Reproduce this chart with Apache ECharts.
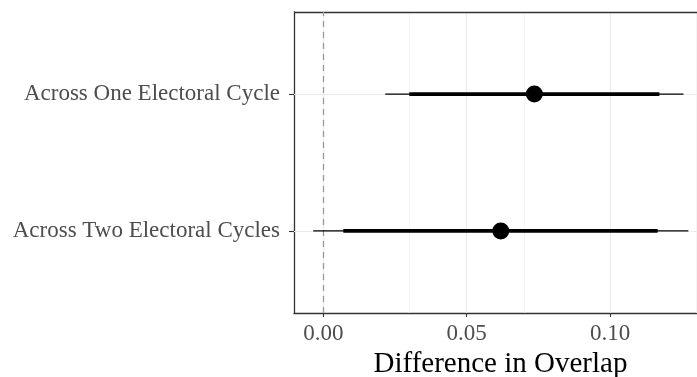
<!DOCTYPE html>
<html><head><meta charset="utf-8">
<script src="https://cdn.jsdelivr.net/npm/echarts@6/dist/echarts.min.js"></script>
<style>html,body{margin:0;padding:0;background:#fff}#c{width:697px;height:377px}</style>
</head><body><div id="c"></div>
<script>
// Data
const categories = ['Across Two Electoral Cycles', 'Across One Electoral Cycle'];
const estimates = [0.0619, 0.0736];
const outerLow = [-0.0035, 0.0216];
const outerHigh = [0.1273, 0.1256];
const innerLow = [0.0070, 0.0300];
const innerHigh = [0.1166, 0.1172];
const xTicks = [0, 0.05, 0.10];
const xMinorGrid = [0.025, 0.075, 0.125];
const xRange = [-0.0102, 0.1338];
const yRange = [-0.6, 1.6];

const FONT = '"Liberation Serif", "DejaVu Serif", serif';
const chart = echarts.init(document.getElementById('c'), null, {renderer: 'canvas'});

function segSeries(lo, hi, width) {
  return {
    type: 'custom',
    silent: true,
    renderItem: function (params, api) {
      const a = api.coord([api.value(0), api.value(2)]);
      const b = api.coord([api.value(1), api.value(2)]);
      return {type: 'line', shape: {x1: a[0], y1: a[1], x2: b[0], y2: b[1]},
        style: {stroke: '#000', lineWidth: width}};
    },
    encode: {x: [0, 1], y: 2},
    data: lo.map((v, i) => [v, hi[i], i]),
    z: 5
  };
}

chart.setOption({
  animation: false,
  grid: {left: 294, top: 12, bottom: 64, right: -10, show: false,
    outerBoundsMode: 'none', containLabel: false},
  xAxis: {
    type: 'value', min: xRange[0], max: xRange[1],
    axisLine: {show: true, onZero: false, lineStyle: {color: '#333333', width: 1.3}},
    axisTick: {show: true, customValues: xTicks, length: 4, lineStyle: {color: '#333333', width: 1.1}},
    axisLabel: {customValues: xTicks, formatter: v => v.toFixed(2), color: '#4d4d4d',
      fontFamily: FONT, fontSize: 23, margin: 9},
    splitLine: {show: false},
    name: 'Difference in Overlap', nameLocation: 'middle', nameGap: 36,
    nameTextStyle: {color: '#000', fontFamily: FONT, fontSize: 29}
  },
  yAxis: {
    type: 'value', min: yRange[0], max: yRange[1],
    axisLine: {show: true, onZero: false, lineStyle: {color: '#333333', width: 1.3}},
    axisTick: {show: true, customValues: [0, 1], length: 5, lineStyle: {color: '#333333', width: 1.1}},
    axisLabel: {customValues: [0, 1], formatter: v => categories[Math.round(v)], color: '#4d4d4d',
      fontFamily: FONT, fontSize: 23, margin: 14},
    splitLine: {show: false}
  },
  series: [
    {
      type: 'line', data: [], silent: true,
      markLine: {
        silent: true, symbol: 'none', label: {show: false},
        lineStyle: {color: '#ebebeb', width: 1.1, type: 'solid'},
        data: [
          ...xTicks.map(v => ({xAxis: v})),
          ...[0, 1].map(v => ({yAxis: v}))
        ]
      },
      z: 1
    },
    {
      type: 'line', data: [], silent: true,
      markLine: {
        silent: true, symbol: 'none', label: {show: false},
        lineStyle: {color: '#f2f2f2', width: 0.8, type: 'solid'},
        data: xMinorGrid.map(v => ({xAxis: v}))
      },
      z: 1
    },
    {
      type: 'line', data: [], silent: true,
      markLine: {
        silent: true, symbol: 'none', label: {show: false},
        lineStyle: {color: '#333333', width: 1.3, type: 'solid'},
        data: [{yAxis: yRange[1]}]
      },
      z: 3
    },
    {
      type: 'line', data: [], silent: true,
      markLine: {
        silent: true, symbol: 'none', label: {show: false},
        lineStyle: {color: '#999999', width: 1.3, type: [6, 5]},
        data: [{xAxis: 0}]
      },
      z: 2
    },
    segSeries(outerLow, outerHigh, 1.2),
    segSeries(innerLow, innerHigh, 3.6),
    {
      type: 'scatter', symbol: 'circle', symbolSize: 17,
      itemStyle: {color: '#000', opacity: 1},
      data: estimates.map((v, i) => [v, i]),
      z: 10
    }
  ]
});
</script></body></html>
